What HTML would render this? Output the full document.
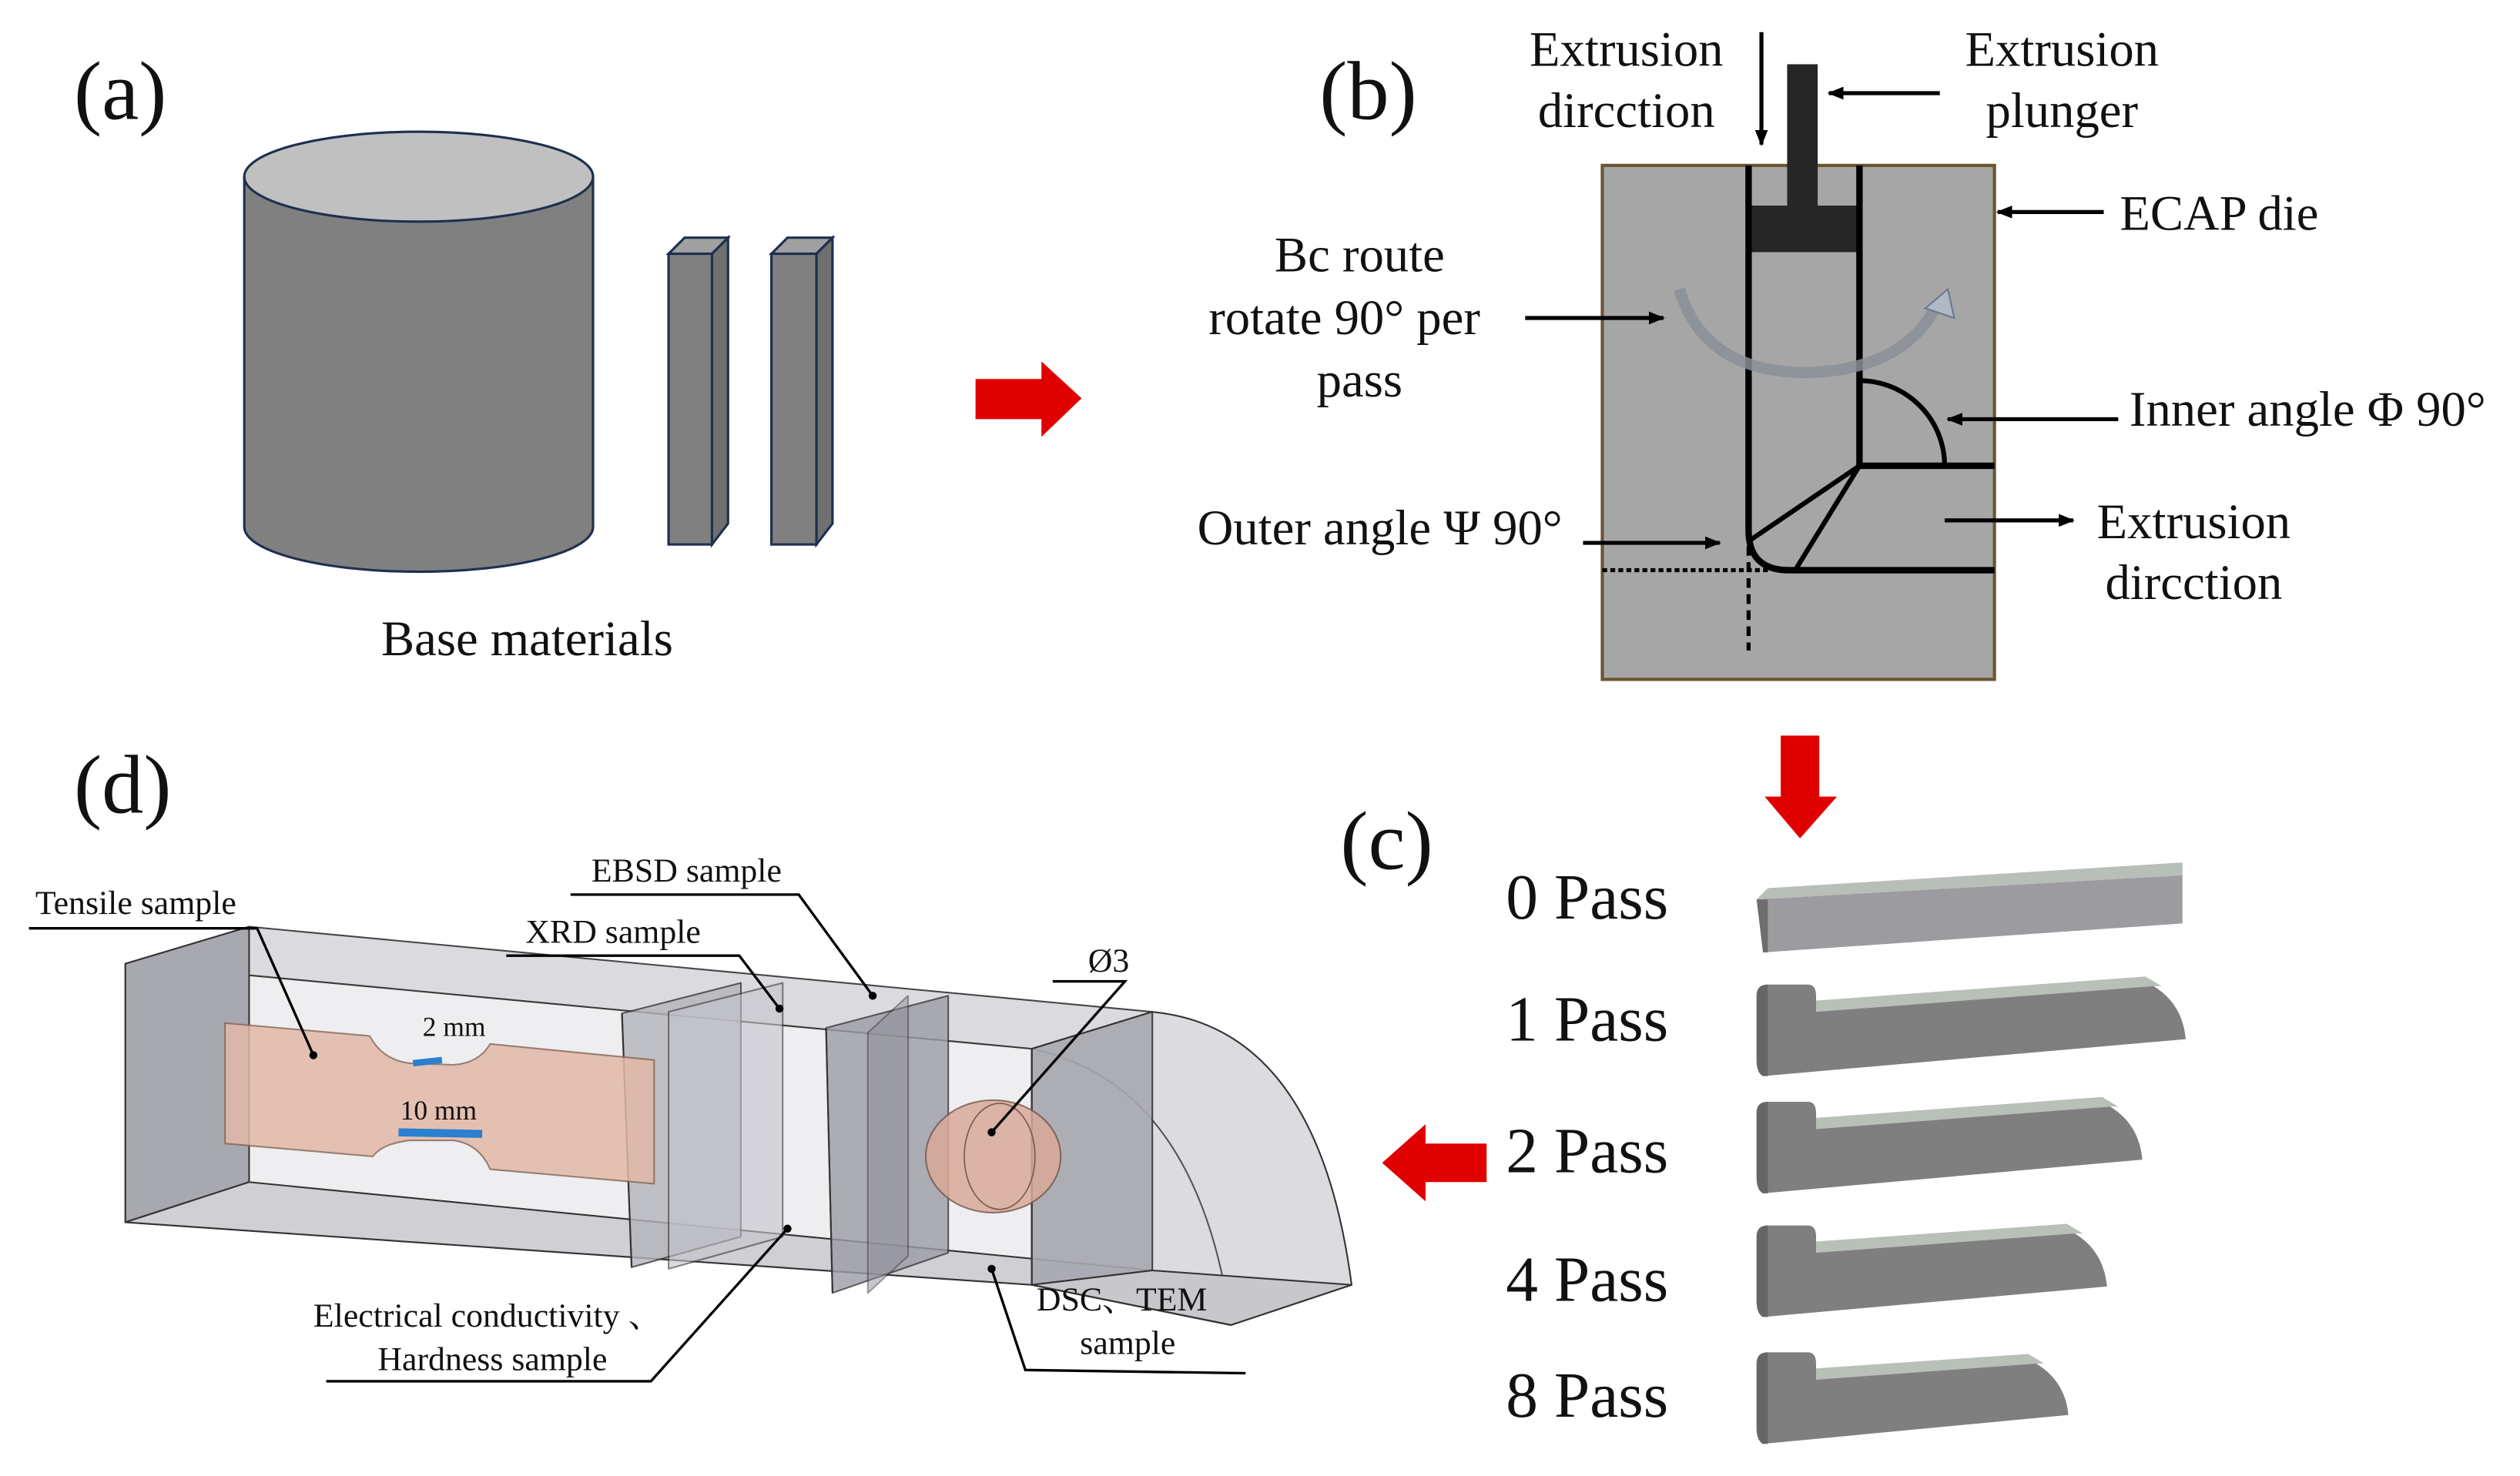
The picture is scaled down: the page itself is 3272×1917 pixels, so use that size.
<!DOCTYPE html>
<html><head><meta charset="utf-8"><style>
html,body{margin:0;padding:0;background:#fff;}
svg{display:block;}
text{font-family:"Liberation Serif","Noto Serif CJK SC",serif;fill:#111;}
</style></head><body>
<svg width="3272" height="1917" viewBox="0 0 1568 919" preserveAspectRatio="none" xmlns="http://www.w3.org/2000/svg">
<defs>
<marker id="ah" markerWidth="10" markerHeight="8" refX="9" refY="4" orient="auto" markerUnits="userSpaceOnUse"><path d="M0,0 L10,4 L0,8 z" fill="#000"/></marker>
</defs>
<rect width="1568" height="919" fill="#fff"/>

<!-- (a) -->
<text x="46" y="74" font-size="52">(a)</text>
<path d="M152,110 L152,328 A108.5,28 0 0 0 369,328 L369,110 z" fill="#808080" stroke="#1f2f4f" stroke-width="1.5"/>
<ellipse cx="260.5" cy="110" rx="108.5" ry="28" fill="#c0c0c0" stroke="#1f2f4f" stroke-width="1.5"/>
<g stroke="#1f2f4f" stroke-width="1.5">
<polygon points="416,158 426,148 453,148 443,158" fill="#a0a0a0"/>
<polygon points="443,158 453,148 453,326 443,339" fill="#707070"/>
<rect x="416" y="158" width="27" height="181" fill="#808080"/>
<polygon points="480,158 490,148 518,148 508,158" fill="#a0a0a0"/>
<polygon points="508,158 518,148 518,326 508,339" fill="#707070"/>
<rect x="480" y="158" width="28" height="181" fill="#808080"/>
</g>
<text x="328" y="408" font-size="31" text-anchor="middle">Base materials</text>
<polygon points="607,236 648,236 648,225 673,248 648,272 648,261 607,261" fill="#e00000"/>

<!-- (b) -->
<text x="821" y="74" font-size="52">(b)</text>
<rect x="997" y="103" width="244" height="320" fill="#a6a6a6" stroke="#6b5530" stroke-width="2"/>
<rect x="1112" y="40" width="19" height="90" fill="#262626"/>
<rect x="1088" y="128" width="69" height="29" fill="#262626"/>
<g stroke="#000" stroke-width="4" fill="none">
<path d="M1088,103 L1088,330 Q1088,355 1113,355 L1241,355"/>
<path d="M1157,103 L1157,290 L1241,290"/>
<line x1="1157" y1="290" x2="1088" y2="337" stroke-width="3"/>
<line x1="1157" y1="290" x2="1117" y2="355" stroke-width="3"/>
<path d="M1157,237 A53,53 0 0 1 1210,290" stroke-width="3"/>
</g>
<line x1="997" y1="355" x2="1100" y2="355" stroke="#000" stroke-width="2.5" stroke-dasharray="3,2"/>
<line x1="1088" y1="340" x2="1088" y2="405" stroke="#000" stroke-width="2.5" stroke-dasharray="6,4"/>
<path d="M1045,180 Q1060,232 1125,232 Q1185,230 1205,190" fill="none" stroke="#8a8f98" stroke-width="7" opacity="0.85"/>
<polygon points="1198,192 1212,180 1216,198" fill="#b0b8c4" stroke="#6a7890" stroke-width="1"/>
<g stroke="#000" stroke-width="2.5" marker-end="url(#ah)">
<line x1="1096" y1="20" x2="1096" y2="90"/>
<line x1="1207" y1="58" x2="1138" y2="58"/>
<line x1="1309" y1="132" x2="1243" y2="132"/>
<line x1="949" y1="198" x2="1035" y2="198"/>
<line x1="1318" y1="261" x2="1212" y2="261"/>
<line x1="985" y1="338" x2="1070" y2="338"/>
<line x1="1210" y1="324" x2="1290" y2="324"/>
</g>
<g font-size="31">
<text x="1012" y="41" text-anchor="middle">Extrusion</text>
<text x="1012" y="79" text-anchor="middle">dircction</text>
<text x="1283" y="41" text-anchor="middle">Extrusion</text>
<text x="1283" y="79" text-anchor="middle">plunger</text>
<text x="1319" y="143">ECAP die</text>
<text x="846" y="169" text-anchor="middle">Bc route</text>
<text x="752" y="208">rotate 90°  per</text>
<text x="846" y="247" text-anchor="middle">pass</text>
<text x="1325" y="265">Inner angle Φ 90°</text>
<text x="745" y="339">Outer angle Ψ 90°</text>
<text x="1365" y="335" text-anchor="middle">Extrusion</text>
<text x="1365" y="373" text-anchor="middle">dircction</text>
</g>
<polygon points="1108,458 1132,458 1132,496 1143,496 1120,522 1098,496 1108,496" fill="#e00000"/>

<!-- (c) -->
<text x="834" y="541" font-size="52">(c)</text>
<g font-size="40">
<text x="937" y="572">0 Pass</text>
<text x="937" y="648">1 Pass</text>
<text x="937" y="730">2 Pass</text>
<text x="937" y="810">4 Pass</text>
<text x="937" y="882">8 Pass</text>
</g>
<polygon points="1093,560 1100,553 1358,537 1358,545" fill="#b8beb8"/>
<polygon points="1093,560 1358,545 1358,575 1097,593" fill="#9c9ca0"/>
<polygon points="1093,560 1100,560 1100,593 1097,593" fill="#6e6e6e"/>
<g>
<path d="M1130,630 L1130,623 L1335,608 L1345,614 L1340,614 z" fill="#b8c0b8"/>
<path d="M1093,620 Q1093,613 1100,613 L1125,613 Q1130,613 1130,620 L1130,630 L1340,614 Q1358,625 1360,647 L1097,670 Q1093,668 1093,660 z" fill="#7f7f7f"/>
<path d="M1093,620 Q1093,613 1100,613 L1100,670 L1097,670 Q1093,668 1093,660 z" fill="#666"/>
</g>
<g>
<path d="M1130,703 L1130,696 L1308,683 L1318,689 L1313,689 z" fill="#b8c0b8"/>
<path d="M1093,693 Q1093,686 1100,686 L1125,686 Q1130,686 1130,693 L1130,703 L1313,689 Q1331,700 1333,722 L1097,743 Q1093,741 1093,733 z" fill="#7f7f7f"/>
<path d="M1093,693 Q1093,686 1100,686 L1100,743 L1097,743 Q1093,741 1093,733 z" fill="#666"/>
</g>
<g>
<path d="M1130,780 L1130,773 L1286,762 L1296,768 L1291,768 z" fill="#b8c0b8"/>
<path d="M1093,770 Q1093,763 1100,763 L1125,763 Q1130,763 1130,770 L1130,780 L1291,768 Q1309,779 1311,801 L1097,820 Q1093,818 1093,810 z" fill="#7f7f7f"/>
<path d="M1093,770 Q1093,763 1100,763 L1100,820 L1097,820 Q1093,818 1093,810 z" fill="#666"/>
</g>
<g>
<path d="M1130,859 L1130,852 L1262,843 L1272,849 L1267,849 z" fill="#b8c0b8"/>
<path d="M1093,849 Q1093,842 1100,842 L1125,842 Q1130,842 1130,849 L1130,859 L1267,849 Q1285,860 1287,881 L1097,899 Q1093,897 1093,889 z" fill="#7f7f7f"/>
<path d="M1093,849 Q1093,842 1100,842 L1100,899 L1097,899 Q1093,897 1093,889 z" fill="#666"/>
</g>
<polygon points="925,712 887,712 887,700 860,724 887,748 887,736 925,736" fill="#e00000"/>

<!-- (d) -->
<text x="46" y="506" font-size="52">(d)</text>
<g stroke="#333" stroke-width="1" stroke-linejoin="round">
<path d="M717,630 Q820,640 841,800 L766,825 L642,800 L642,653 z" fill="#dcdce0"/>
<path d="M642,653 Q745,675 766,825" fill="none" stroke="#555"/>
<polygon points="78,600 155,577 717,630 642,653" fill="#d8d8dc" opacity="0.9"/>
<polygon points="78,600 642,653 642,800 78,761" fill="#e4e4e8" opacity="0.6"/>
<polygon points="78,600 155,577 155,736 78,761" fill="#a8a8b0"/>
<polygon points="155,736 717,791 642,800 78,761" fill="#cfcfd4"/>
<polygon points="642,653 717,630 717,791 642,800" fill="#a8a8b0" opacity="0.9"/>
<polygon points="642,800 717,791 841,800 766,825" fill="#c8c8cc"/>
<line x1="642" y1="800" x2="766" y2="825"/>
<line x1="642" y1="653" x2="642" y2="800"/>
<polygon points="387,631 461,612 461,770 393,789" fill="#b4b4bc" opacity="0.8"/>
<polygon points="416,630 487,612 487,770 416,790" fill="#c4c4cc" opacity="0.6"/>
<polygon points="514,640 590,620 590,780 518,805" fill="#9c9ca6" opacity="0.8"/>
<polygon points="540,643 565,620 565,782 540,805" fill="#8e8e98" opacity="0.5"/>
<line x1="387" y1="631" x2="393" y2="789"/>
<line x1="514" y1="640" x2="518" y2="805"/>
</g>
<path d="M140,637 L230,645 Q238,660 255,662 L282,663 Q298,662 305,650 L407,660 L407,737 L305,728 Q298,712 282,710 L255,710 Q238,712 232,720 L140,712 z" fill="#e2b9a6" stroke="#8a6a5a" stroke-width="1" opacity="0.85"/>
<line x1="257" y1="662" x2="275" y2="660" stroke="#2a7fd0" stroke-width="4"/>
<line x1="248" y1="705" x2="300" y2="706" stroke="#2a7fd0" stroke-width="5"/>
<ellipse cx="618" cy="720" rx="42" ry="35" fill="#d9aa98" stroke="#7a5a50" stroke-width="1" opacity="0.85"/>
<ellipse cx="622" cy="720" rx="22" ry="33" fill="none" stroke="#7a5a50" stroke-width="0.8"/>
<g stroke="#000" stroke-width="1.6" fill="none">
<polyline points="18,578 160,578 195,657"/>
<polyline points="355,557 497,557 543,620"/>
<polyline points="315,595 460,595 485,628"/>
<polyline points="655,611 700,611 617,705"/>
<polyline points="203,860 405,860 490,765"/>
<polyline points="617,790 638,853 775,855"/>
</g>
<g fill="#000"><circle cx="195" cy="657" r="2.5"/><circle cx="543" cy="620" r="2.5"/><circle cx="485" cy="628" r="2.5"/><circle cx="617" cy="705" r="2.5"/><circle cx="490" cy="765" r="2.5"/><circle cx="617" cy="790" r="2.5"/></g>
<g font-size="21">
<text x="22" y="569">Tensile sample</text>
<text x="368" y="549">EBSD sample</text>
<text x="327" y="587">XRD sample</text>
<text x="677" y="605">Ø3</text>
<text x="263" y="645" font-size="17">2 mm</text>
<text x="249" y="697" font-size="17">10 mm</text>
<text x="195" y="826">Electrical conductivity 、</text>
<text x="235" y="853">Hardness sample</text>
<text x="645" y="816">DSC、TEM</text>
<text x="672" y="843">sample</text>
</g>
</svg>
</body></html>
